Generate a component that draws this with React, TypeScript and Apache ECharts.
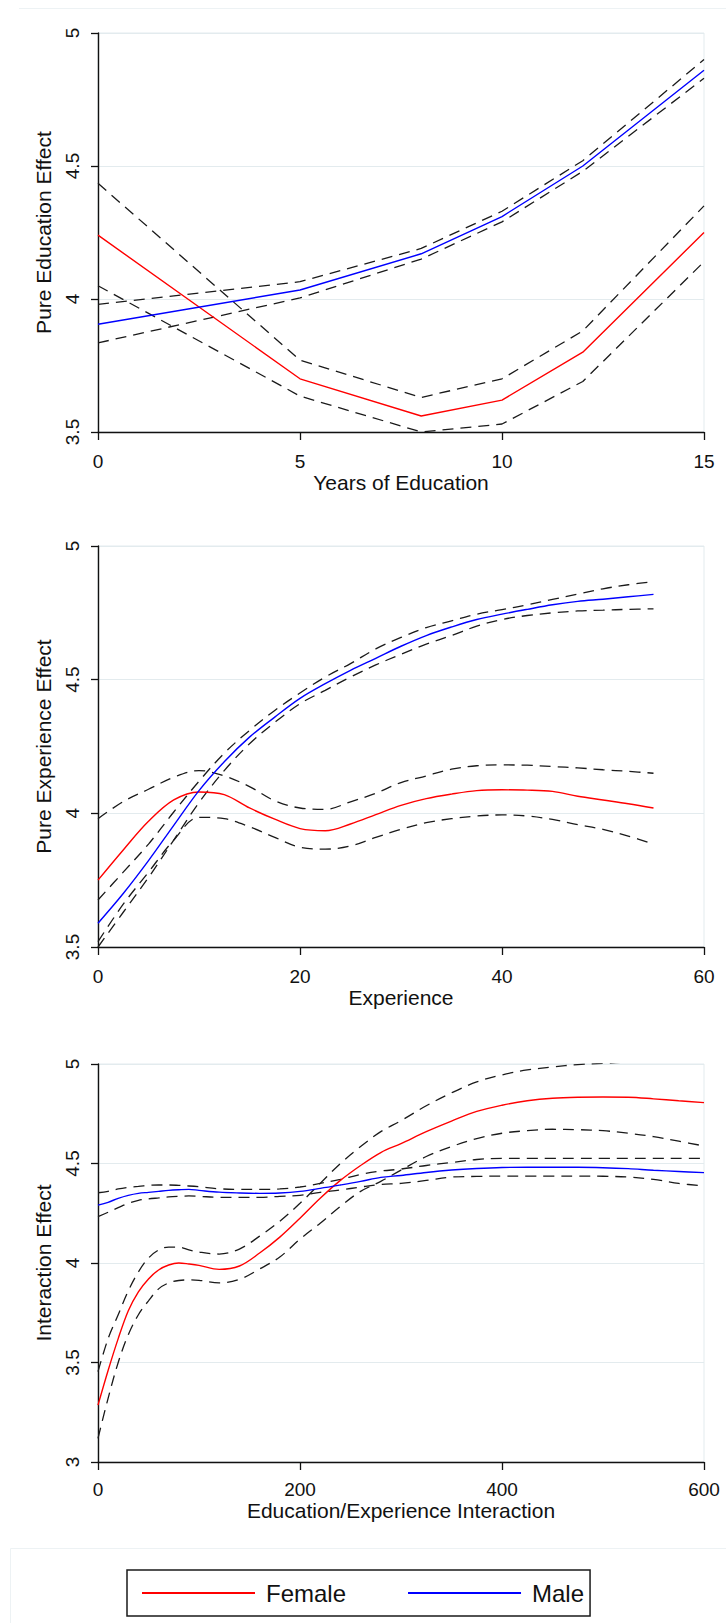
import React, { useEffect, useRef } from "react";
import * as echarts from "echarts";

// ---------- Panel 1: Years of Education ----------
const eduX = [0, 5, 8, 10, 12, 15];
const eduFemale = [4.24, 3.7, 3.56, 3.62, 3.8, 4.25];
const eduFemaleHi = [4.435, 3.77, 3.63, 3.7, 3.88, 4.35];
const eduFemaleLo = [4.05, 3.635, 3.5, 3.53, 3.69, 4.14];
const eduMale = [3.905, 4.034, 4.17, 4.31, 4.5, 4.86];
const eduMaleHi = [3.98, 4.065, 4.19, 4.33, 4.52, 4.9];
const eduMaleLo = [3.835, 4.004, 4.15, 4.29, 4.48, 4.83];

// ---------- Panel 2: Experience ----------
const expX = [0, 2.5, 5, 7.5, 10, 12.5, 15, 17.5, 20, 22.5, 25, 27.5, 30, 32.5, 35, 37.5, 40, 42.5, 45, 47.5, 50, 52.5, 55];
const expFemale = [3.75, 3.863, 3.97, 4.05, 4.08, 4.07, 4.02, 3.978, 3.943, 3.935, 3.96, 3.995, 4.03, 4.055, 4.072, 4.085, 4.088, 4.087, 4.082, 4.064, 4.05, 4.036, 4.02];
const expFemaleHi = [3.98, 4.044, 4.09, 4.135, 4.16, 4.14, 4.1, 4.047, 4.02, 4.015, 4.043, 4.075, 4.115, 4.14, 4.165, 4.178, 4.181, 4.18, 4.175, 4.17, 4.163, 4.157, 4.15];
const expFemaleLo = [3.52, 3.66, 3.78, 3.9, 3.985, 3.98, 3.95, 3.91, 3.873, 3.866, 3.878, 3.91, 3.94, 3.965, 3.98, 3.99, 3.994, 3.99, 3.977, 3.958, 3.94, 3.915, 3.885];
const expMale = [3.589, 3.7, 3.823, 3.955, 4.085, 4.193, 4.285, 4.36, 4.43, 4.485, 4.535, 4.58, 4.625, 4.665, 4.697, 4.725, 4.745, 4.763, 4.78, 4.793, 4.801, 4.81, 4.819];
const expMaleHi = [3.676, 3.78, 3.885, 4.005, 4.12, 4.225, 4.31, 4.385, 4.45, 4.51, 4.56, 4.615, 4.658, 4.695, 4.72, 4.745, 4.762, 4.78, 4.8, 4.82, 4.84, 4.855, 4.867];
const expMaleLo = [3.5, 3.63, 3.76, 3.9, 4.04, 4.16, 4.26, 4.34, 4.41, 4.46, 4.51, 4.555, 4.595, 4.633, 4.665, 4.7, 4.725, 4.74, 4.75, 4.757, 4.76, 4.763, 4.765];

// ---------- Panel 3: Education/Experience Interaction ----------
const intX = [0, 10, 20, 30, 40, 50, 60, 70, 80, 90, 100, 120, 140, 160, 180, 200, 220, 240, 260, 280, 300, 325, 350, 375, 400, 425, 450, 475, 500, 525, 550, 575, 600];
const intFemale = [3.286, 3.46, 3.62, 3.76, 3.855, 3.92, 3.965, 3.99, 4.0, 3.995, 3.988, 3.968, 3.985, 4.05, 4.13, 4.225, 4.325, 4.415, 4.49, 4.555, 4.6, 4.66, 4.713, 4.762, 4.793, 4.815, 4.828, 4.833, 4.834, 4.833, 4.825, 4.815, 4.806];
const intFemaleHi = [3.454, 3.62, 3.74, 3.86, 3.955, 4.025, 4.065, 4.08, 4.08, 4.066, 4.055, 4.045, 4.07, 4.135, 4.21, 4.3, 4.4, 4.5, 4.585, 4.66, 4.715, 4.79, 4.855, 4.91, 4.945, 4.97, 4.985, 4.997, 5.003, 5.01, 5.015, 5.018, 5.02];
const intFemaleLo = [3.119, 3.32, 3.5, 3.64, 3.74, 3.81, 3.87, 3.9, 3.912, 3.915, 3.913, 3.9, 3.918, 3.97, 4.03, 4.12, 4.2, 4.285, 4.36, 4.41, 4.467, 4.535, 4.585, 4.625, 4.652, 4.665, 4.672, 4.67, 4.665, 4.652, 4.635, 4.612, 4.588];
const intMale = [4.291, 4.305, 4.325, 4.34, 4.35, 4.355, 4.36, 4.365, 4.368, 4.37, 4.365, 4.356, 4.352, 4.35, 4.352, 4.36, 4.375, 4.392, 4.41, 4.43, 4.44, 4.455, 4.467, 4.475, 4.48, 4.481, 4.481, 4.481, 4.479, 4.474, 4.466, 4.46, 4.454];
const intMaleHi = [4.353, 4.36, 4.372, 4.38, 4.385, 4.39, 4.392, 4.392, 4.39, 4.387, 4.383, 4.373, 4.37, 4.37, 4.372, 4.382, 4.4, 4.42, 4.445, 4.462, 4.472, 4.49, 4.505, 4.52, 4.526, 4.526, 4.526, 4.526, 4.526, 4.526, 4.526, 4.526, 4.526];
const intMaleLo = [4.233, 4.255, 4.278, 4.3, 4.315, 4.322, 4.327, 4.332, 4.335, 4.337, 4.335, 4.33, 4.33, 4.33, 4.335, 4.34, 4.355, 4.367, 4.382, 4.395, 4.4, 4.415, 4.432, 4.435, 4.437, 4.437, 4.437, 4.437, 4.436, 4.432, 4.42, 4.4, 4.387];

const xTitles = ["Years of Education", "Experience", "Education/Experience Interaction"];
const yTitles = ["Pure Education Effect", "Pure Experience Effect", "Interaction Effect"];
const legendNames = ["Female", "Male"];

const FONT = "'Liberation Sans', Arial, Helvetica, sans-serif";
const RED = "#ff0000";
const BLUE = "#0000ff";
const DASH = "#1a1a1a";
const GRIDC = "#e3ebee";
const AXC = "#111111";

function pairs(xs: number[], ys: number[]) {
  return xs.map((x, i) => [x, ys[i]]);
}

export default function App() {
  const ref = useRef<HTMLDivElement>(null);

  useEffect(() => {
    document.body.style.margin = "0";
    if (!ref.current) return;
    const chart = echarts.init(ref.current, undefined, { renderer: "svg" });

    const grids = [
      { top: 33, height: 399 },
      { top: 546, height: 401 },
      { top: 1064, height: 398 },
    ].map((g) => ({
      left: 98,
      width: 606,
      top: g.top,
      height: g.height,
      show: true,
      borderColor: GRIDC,
      borderWidth: 1,
      backgroundColor: "transparent",
    }));

    const xSpecs = [
      { min: 0, max: 15, interval: 5, margin: 20, gap: 37 },
      { min: 0, max: 60, interval: 20, margin: 20, gap: 38 },
      { min: 0, max: 600, interval: 200, margin: 18, gap: 37 },
    ];
    const ySpecs = [
      { min: 3.5, max: 5 },
      { min: 3.5, max: 5 },
      { min: 3, max: 5 },
    ];
    const smoothing = [false, 0.35, 0.35];

    const xAxes = xSpecs.map((s, i) => ({
      gridIndex: i,
      type: "value",
      min: s.min,
      max: s.max,
      interval: s.interval,
      axisLine: { show: true, onZero: false, lineStyle: { color: AXC, width: 1.4 } },
      axisTick: { show: true, length: 8, lineStyle: { color: AXC, width: 1.3 } },
      axisLabel: { margin: s.margin, fontSize: 19, color: AXC, fontFamily: FONT },
      splitLine: { show: false },
      name: xTitles[i],
      nameLocation: "middle",
      nameGap: s.gap,
      nameTextStyle: { fontSize: 21, color: AXC, fontFamily: FONT },
    }));

    const yAxes = ySpecs.map((s, i) => ({
      gridIndex: i,
      type: "value",
      min: s.min,
      max: s.max,
      interval: 0.5,
      axisLine: { show: true, onZero: false, lineStyle: { color: AXC, width: 1.4 } },
      axisTick: { show: true, length: 7, lineStyle: { color: AXC, width: 1.3 } },
      axisLabel: { rotate: 90, margin: 16, fontSize: 19, color: AXC, fontFamily: FONT },
      splitLine: { show: true, lineStyle: { color: GRIDC, width: 1 } },
      name: yTitles[i],
      nameLocation: "middle",
      nameGap: 44,
      nameTextStyle: { fontSize: 21, color: AXC, fontFamily: FONT },
    }));

    const panels = [
      { x: eduX, f: eduFemale, fh: eduFemaleHi, fl: eduFemaleLo, m: eduMale, mh: eduMaleHi, ml: eduMaleLo },
      { x: expX, f: expFemale, fh: expFemaleHi, fl: expFemaleLo, m: expMale, mh: expMaleHi, ml: expMaleLo },
      { x: intX, f: intFemale, fh: intFemaleHi, fl: intFemaleLo, m: intMale, mh: intMaleHi, ml: intMaleLo },
    ];

    const series: any[] = [];
    panels.forEach((p, i) => {
      const dashed = (name: string, ys: number[]) => ({
        name,
        type: "line",
        xAxisIndex: i,
        yAxisIndex: i,
        data: pairs(p.x, ys),
        symbol: "none",
        smooth: smoothing[i],
        silent: true,
        z: 2,
        lineStyle: { color: DASH, width: 1.3, type: [11, 7] },
        itemStyle: { color: DASH },
      });
      const solid = (name: string, ys: number[], color: string) => ({
        name,
        type: "line",
        xAxisIndex: i,
        yAxisIndex: i,
        data: pairs(p.x, ys),
        symbol: "none",
        smooth: smoothing[i],
        z: 3,
        lineStyle: { color, width: 1.4, type: "solid" },
        itemStyle: { color },
      });
      series.push(dashed("Female upper bound", p.fh));
      series.push(dashed("Female lower bound", p.fl));
      series.push(dashed("Male upper bound", p.mh));
      series.push(dashed("Male lower bound", p.ml));
      series.push(solid(legendNames[0], p.f, RED));
      series.push(solid(legendNames[1], p.m, BLUE));
    });

    chart.setOption({
      animation: false,
      backgroundColor: "#ffffff",
      textStyle: { fontFamily: FONT },
      grid: grids,
      xAxis: xAxes,
      yAxis: yAxes,
      series,
      legend: {
        data: legendNames,
        left: 127,
        top: 1570,
        orient: "horizontal",
        icon: "rect",
        itemWidth: 113,
        itemHeight: 2,
        itemGap: 62,
        padding: [10, 6, 10, 15],
        borderColor: "#1a1a1a",
        borderWidth: 1.5,
        textStyle: { fontSize: 24, color: AXC, fontFamily: FONT, padding: [0, 0, 0, 6], lineHeight: 26 },
      },
      graphic: [
        {
          type: "line",
          silent: true,
          shape: { x1: 19, y1: 8.5, x2: 726, y2: 8.5 },
          style: { stroke: "#edf2f4", lineWidth: 1 },
        },
        {
          type: "polyline",
          silent: true,
          shape: { points: [[10.5, 1623], [10.5, 1548.5], [726, 1548.5]] },
          style: { stroke: "#edf2f4", lineWidth: 1, fill: null },
        },
      ],
    });

    return () => chart.dispose();
  }, []);

  return <div ref={ref} style={{ width: 726, height: 1623 }} />;
}
